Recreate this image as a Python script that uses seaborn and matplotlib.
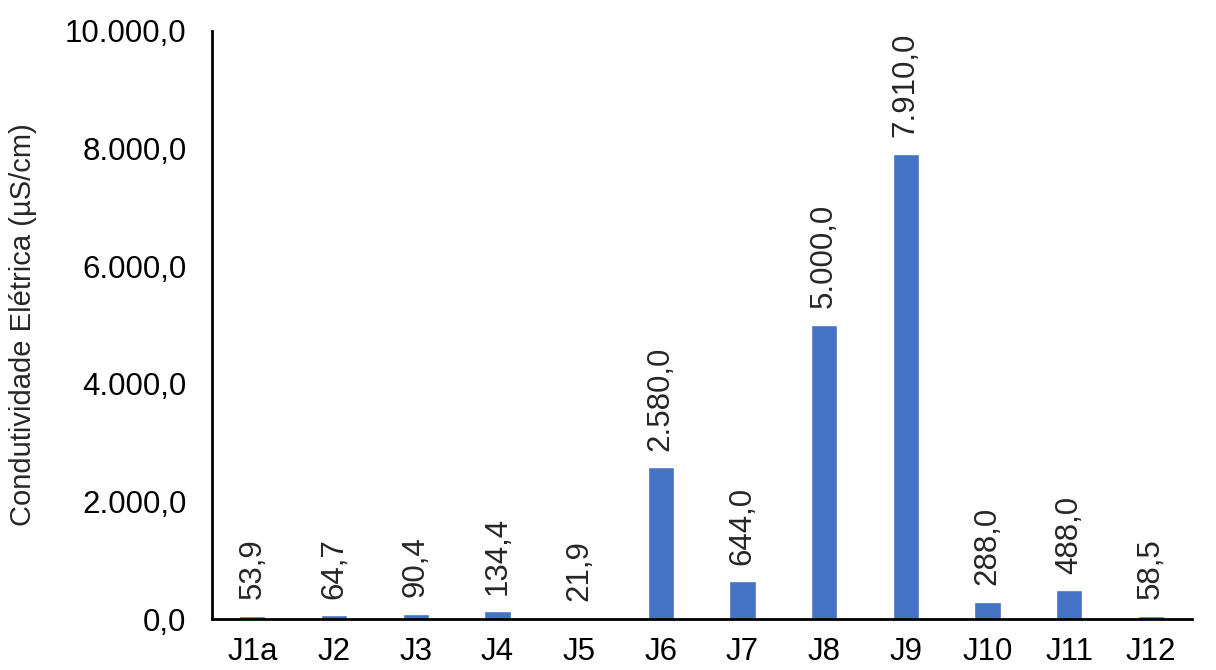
import matplotlib
matplotlib.use("Agg")
import matplotlib.pyplot as plt
import seaborn as sns
import pandas as pd
from matplotlib.ticker import FuncFormatter

# Data
pontos = ["J1a", "J2", "J3", "J4", "J5", "J6", "J7", "J8", "J9", "J10", "J11", "J12"]
condutividade = [53.9, 64.7, 90.4, 134.4, 21.9, 2580.0, 644.0, 5000.0, 7910.0, 288.0, 488.0, 58.5]

df = pd.DataFrame({"ponto": pontos, "ce": condutividade})

def fmt_br(v, pos=None):
    # 10000.0 -> "10.000,0"
    s = f"{v:,.1f}"
    return s.replace(",", "X").replace(".", ",").replace("X", ".")

sns.set_style("white")
plt.rcParams["font.family"] = ["Liberation Sans", "DejaVu Sans"]

fig = plt.figure(figsize=(12.16, 6.70), dpi=100)
ax = fig.add_axes([0.174, 0.076, 0.806, 0.878])

sns.barplot(data=df, x="ponto", y="ce", color="#4472C4", width=0.32,
            saturation=1, ax=ax)

ax.set_ylim(0, 10000)
ax.set_yticks(range(0, 10001, 2000))
ax.yaxis.set_major_formatter(FuncFormatter(fmt_br))
ax.tick_params(axis="both", length=0, labelsize=22.5, colors="black")
ax.tick_params(axis="y", pad=18)
ax.tick_params(axis="x", pad=13)

ax.set_xlabel("")
ax.set_ylabel("Condutividade Elétrica (µS/cm)", fontsize=21, labelpad=20)

for s in ["top", "right"]:
    ax.spines[s].set_visible(False)
for s in ["left", "bottom"]:
    ax.spines[s].set_color("black")
    ax.spines[s].set_linewidth(2)

ax.bar_label(ax.containers[0], labels=[fmt_br(v) for v in condutividade],
             rotation=90, padding=12, fontsize=22.5)

fig.savefig("out.png", dpi=100)
